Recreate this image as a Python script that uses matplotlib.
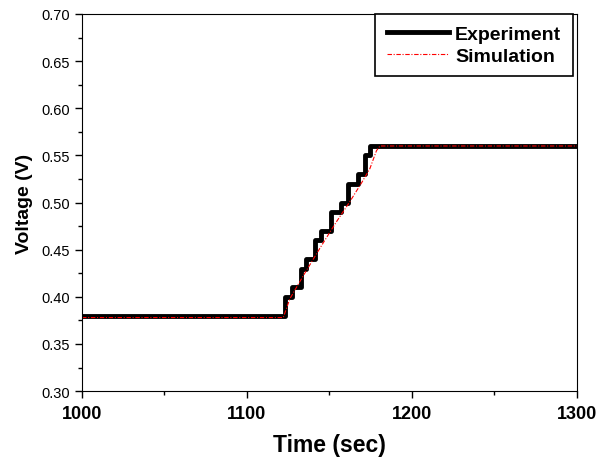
import matplotlib
matplotlib.use("Agg")
import matplotlib.pyplot as plt
from matplotlib.ticker import MultipleLocator

plt.rcParams['font.family'] = ['Liberation Sans', 'DejaVu Sans']

# Experiment: stepped voltage (steps-post)
exp_t = [1000, 1123, 1127, 1133, 1136, 1141, 1145, 1151, 1157, 1161, 1167, 1171.5, 1174.5, 1300]
exp_v = [0.38, 0.40, 0.41, 0.43, 0.44, 0.46, 0.47, 0.49, 0.50, 0.52, 0.53, 0.55, 0.56, 0.56]

# Simulation: near-linear ramp
sim_t = [1000, 1122, 1126, 1134, 1144, 1154, 1162, 1169.5, 1174.5, 1178.5, 1180.6, 1300]
sim_v = [0.378, 0.378, 0.398, 0.422, 0.451, 0.479, 0.500, 0.521, 0.536, 0.555, 0.560, 0.560]

fig = plt.figure(figsize=(5.96, 4.64), dpi=100)
ax = fig.add_axes([0.1376, 0.155, 0.8304, 0.8127])

ax.plot(exp_t, exp_v, color='black', linewidth=3.5, drawstyle='steps-post', label='Experiment')
ax.plot(sim_t, sim_v, color='red', linewidth=0.8, linestyle=(0, (4, 1.5, 1, 1.5)), label='Simulation')

ax.set_xlim(1000, 1300)
ax.set_ylim(0.30, 0.70)
ax.xaxis.set_major_locator(MultipleLocator(100))
ax.xaxis.set_minor_locator(MultipleLocator(50))
ax.yaxis.set_major_locator(MultipleLocator(0.05))
ax.yaxis.set_minor_locator(MultipleLocator(0.025))
ax.yaxis.set_major_formatter(matplotlib.ticker.FormatStrFormatter('%.2f'))

ax.tick_params(which='both', direction='out', top=False, right=False)
ax.tick_params(which='major', length=5, width=1)
ax.tick_params(which='minor', length=3, width=1)
ax.tick_params(axis='y', labelsize=10.5)
ax.tick_params(axis='x', labelsize=13, pad=5)
for lbl in ax.get_xticklabels():
    lbl.set_fontweight('bold')

ax.set_xlabel('Time (sec)', fontsize=16.5, fontweight='bold', labelpad=8)
ax.set_ylabel('Voltage (V)', fontsize=14, fontweight='bold', labelpad=6)

leg = ax.legend(loc='upper right', bbox_to_anchor=(0.992, 1.0), fancybox=False,
                edgecolor='black', framealpha=1, handlelength=3.2,
                prop={'weight': 'bold', 'size': 14}, borderaxespad=0,
                borderpad=0.6, labelspacing=0.2, handletextpad=0.3)
leg.get_frame().set_linewidth(1.2)

fig.savefig('out.png', dpi=100)
